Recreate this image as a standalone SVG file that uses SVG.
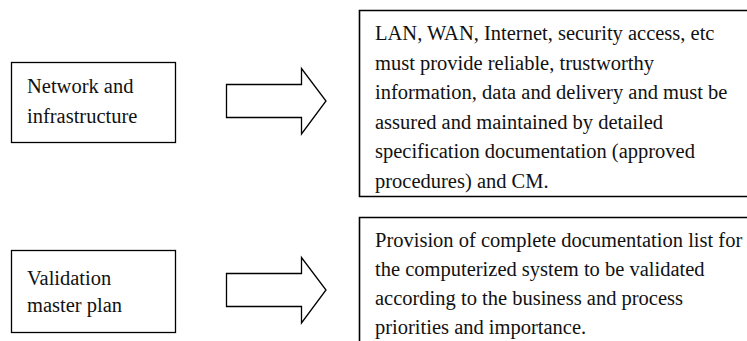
<svg xmlns="http://www.w3.org/2000/svg" width="747" height="341" viewBox="0 0 747 341">
<style>
  .bg{fill:#ffffff}
  .box{fill:#ffffff;stroke:#000000;stroke-width:1.3}
  .obox{fill:none;stroke:#000000;stroke-width:1.6}
  .arrow{fill:#ffffff;stroke:#000000;stroke-width:1.3;stroke-linejoin:miter}
  text{font-family:"Liberation Serif","Times New Roman",serif;font-size:20.5px;fill:#111111}
</style>
<rect class="bg" x="0" y="0" width="747" height="341"/>
<g id="node-network">
  <rect class="box" x="11.5" y="62.5" width="164" height="80"/>
  <text x="27" y="93">Network and</text>
  <text x="27" y="123">infrastructure</text>
</g>
<g id="node-network-desc">
  <path class="obox" d="M 750 10.5 H 359.5 V 196.5 H 750"/>
  <text x="375" y="40">LAN, WAN, Internet, security access, etc</text>
  <text x="375" y="69.5">must provide reliable, trustworthy</text>
  <text x="375" y="99">information, data and delivery and must be</text>
  <text x="375" y="128.5">assured and maintained by detailed</text>
  <text x="375" y="158">specification documentation (approved</text>
  <text x="375" y="187.5">procedures) and CM.</text>
</g>
<g id="node-vmp">
  <rect class="box" x="11.5" y="250.5" width="164" height="82"/>
  <text x="27" y="285">Validation</text>
  <text x="27" y="312">master plan</text>
</g>
<g id="node-vmp-desc">
  <path class="obox" d="M 750 217.5 H 359.5 V 345"/>
  <text x="375" y="247">Provision of complete documentation list for</text>
  <text x="375" y="276">the computerized system to be validated</text>
  <text x="375" y="305">according to the business and process</text>
  <text x="375" y="334">priorities and importance.</text>
</g>
<g id="connectors">
  <polygon class="arrow" points="226.5,84.5 301.5,84.5 301.5,68.5 326,101 301.5,134 301.5,117.5 226.5,117.5"/>
  <polygon class="arrow" points="226.5,273.5 301.5,273.5 301.5,257.5 326,290 301.5,323 301.5,306.5 226.5,306.5"/>
</g>
</svg>
